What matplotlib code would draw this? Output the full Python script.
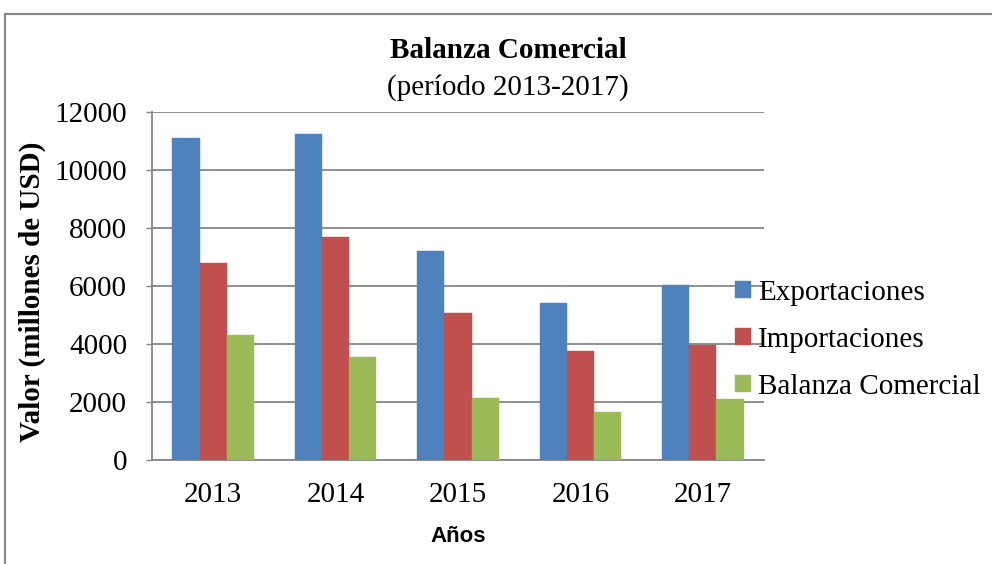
import matplotlib
matplotlib.use("Agg")
import matplotlib.pyplot as plt
import numpy as np
from matplotlib.patches import Rectangle

years = ["2013", "2014", "2015", "2016", "2017"]
exportaciones = [11120, 11230, 7210, 5430, 6050]
importaciones = [6790, 7690, 5080, 3750, 3960]
balanza = [4320, 3540, 2130, 1670, 2090]
series_names = ["Exportaciones", "Importaciones", "Balanza Comercial"]
colors = ["#4F81BD", "#C0504D", "#9BBB59"]
yticks = [0, 2000, 4000, 6000, 8000, 10000, 12000]

plt.rcParams['font.family'] = ['Liberation Serif', 'DejaVu Serif']

W, H = 992, 564
fig = plt.figure(figsize=(W / 100, H / 100), dpi=100)
ax = fig.add_axes([152 / W, 1 - 460 / H, (764 - 152) / W, (460 - 112) / H])

x = np.arange(len(years))
bw = 0.222
for i, (vals, name, c) in enumerate(zip([exportaciones, importaciones, balanza], series_names, colors)):
    ax.bar(x + (i - 1) * bw, vals, width=bw, color=c, label=name, zorder=3,
           edgecolor=c, linewidth=0.3)

ax.set_xlim(-0.5, len(years) - 0.5)
ax.set_ylim(0, 12000)
ax.set_yticks(yticks)
ax.set_yticklabels([str(v) for v in yticks], fontsize=21)
ax.set_xticks(x)
ax.set_xticklabels(years, fontsize=21)
ax.tick_params(axis='x', length=0, pad=16)
ax.tick_params(axis='y', length=4, width=1, color='#868686', pad=14)
ax.grid(axis='y', color='#868686', linewidth=1.3, zorder=0)
for s in ['top', 'right']:
    ax.spines[s].set_visible(False)
for s in ['left', 'bottom']:
    ax.spines[s].set_color('#868686')
    ax.spines[s].set_linewidth(1.3)

fig.text(32 / W, 1 - 292 / H, "Valor (millones de USD)", rotation=90, fontsize=21,
         fontweight='bold', ha='center', va='center')
fig.text(458 / W, 1 - 537 / H, "Años", fontsize=16, fontweight='bold',
         family=['Liberation Sans', 'DejaVu Sans'], ha='center', va='center')
fig.text(508 / W, 1 - 50 / H, "Balanza Comercial", fontsize=21, fontweight='bold',
         ha='center', va='center')
fig.text(508 / W, 1 - 88 / H, "(período 2013-2017)", fontsize=21, ha='center', va='center')

leg = fig.legend(loc='center left', bbox_to_anchor=(735 / W, 1 - 340 / H), fontsize=21,
                 frameon=False, handlelength=0.55, handleheight=0.55, handletextpad=0.25,
                 labelspacing=0.72, borderpad=0, borderaxespad=0)

fig.patches.append(Rectangle((5 / W, -0.05), 1.1, 1 - 14 / H + 0.05, transform=fig.transFigure,
                             fill=False, edgecolor='#868686', linewidth=1.5))

fig.savefig("out.png", dpi=100)
